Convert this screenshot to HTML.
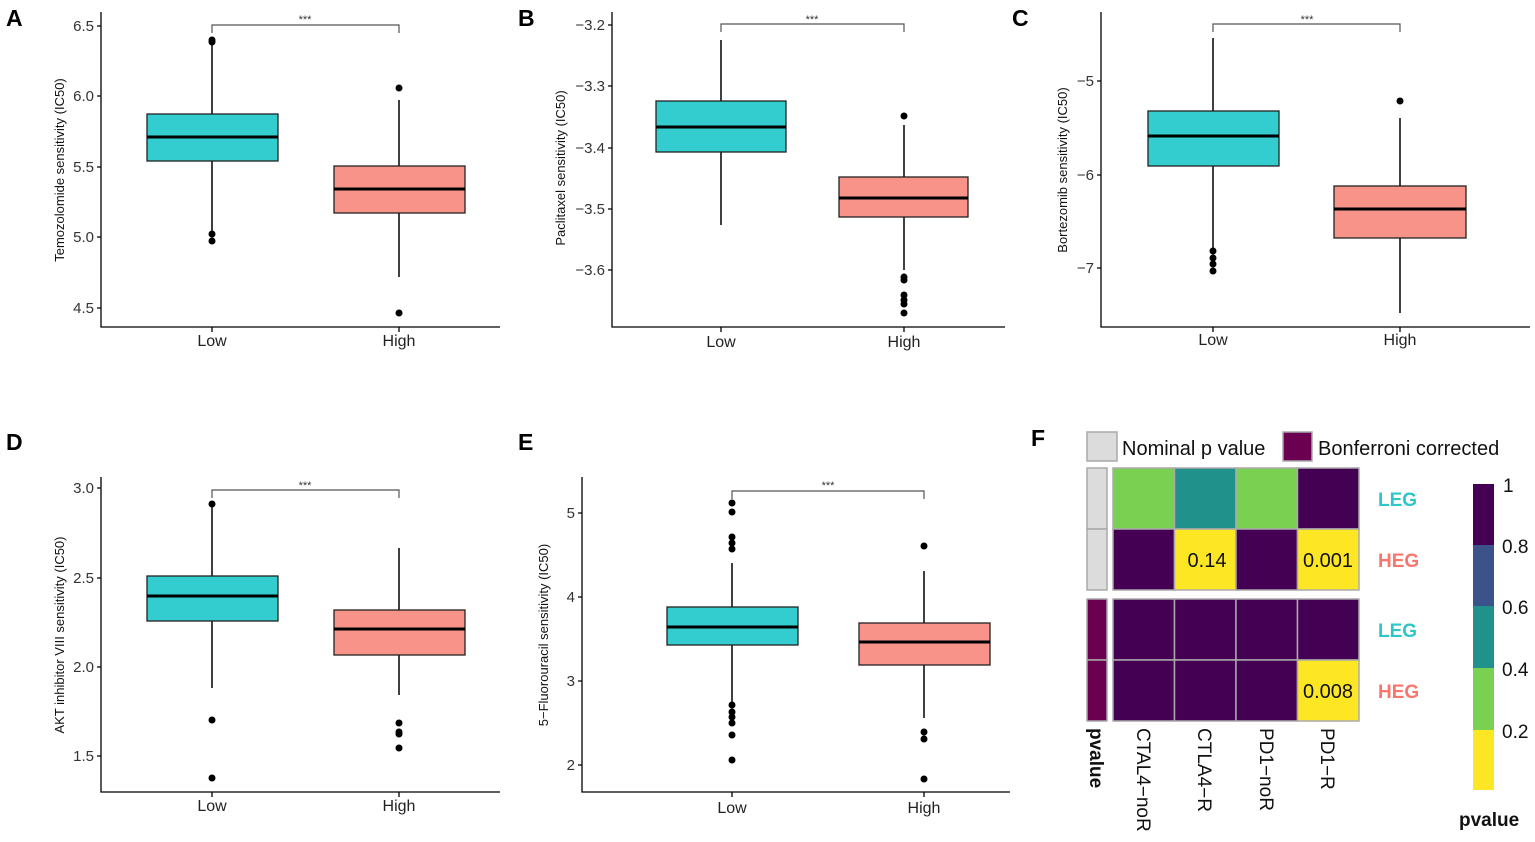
<!DOCTYPE html>
<html><head><meta charset="utf-8"><style>
html,body{margin:0;padding:0;background:#fff}
svg{display:block;font-family:"Liberation Sans",sans-serif}
.t{font-size:15px;fill:#333}
.xl{font-size:16px;fill:#222}
.yt{font-size:13px;fill:#111}
.L{font-size:23px;font-weight:bold}
.ax{stroke:#000;stroke-width:1.3;fill:none}
.w{stroke:#000;stroke-width:1.5}
.bl{fill:#33cccf;stroke:#222;stroke-width:1.3}
.bh{fill:#f8938a;stroke:#222;stroke-width:1.3}
.md{stroke:#000;stroke-width:3}
.br{stroke:#555;stroke-width:1.2;fill:none}
.st{font-size:11px;fill:#333}
</style></head><body>
<svg width="1535" height="842" viewBox="0 0 1535 842">
<!-- Panel A -->
<text class="L" x="6" y="26">A</text>
<path class="ax" d="M101 12V327H500"/>
<g class="t" text-anchor="end"><text x="94" y="31">6.5</text><text x="94" y="101">6.0</text><text x="94" y="172">5.5</text><text x="94" y="242">5.0</text><text x="94" y="313">4.5</text></g>
<path class="ax" d="M97 26H101M97 96H101M97 167H101M97 237H101M97 308H101M212 327V332M399 327V332"/>
<text class="yt" transform="translate(64,170) rotate(-90)" text-anchor="middle">Temozolomide sensitivity (IC50)</text>
<text class="xl" x="212" y="346" text-anchor="middle">Low</text><text class="xl" x="399" y="346" text-anchor="middle">High</text>
<line class="w" x1="212" y1="42" x2="212" y2="232"/><rect class="bl" x="147" y="114" width="131" height="47"/><line class="md" x1="147" y1="137" x2="278" y2="137"/>
<circle cx="212" cy="40" r="3.5"/><circle cx="212" cy="42" r="3.5"/><circle cx="212" cy="234" r="3.5"/><circle cx="212" cy="241" r="3.5"/>
<line class="w" x1="399" y1="100" x2="399" y2="277"/><rect class="bh" x="334" y="166" width="131" height="47"/><line class="md" x1="334" y1="189" x2="465" y2="189"/>
<circle cx="399" cy="88" r="3.5"/><circle cx="399" cy="313" r="3.5"/>
<path class="br" d="M212 33V25H399V33"/><text class="st" x="305" y="23" text-anchor="middle">***</text>

<!-- Panel B -->
<text class="L" x="518" y="26">B</text>
<path class="ax" d="M612 12V327H1005"/>
<g class="t" text-anchor="end"><text x="605" y="30">−3.2</text><text x="605" y="91">−3.3</text><text x="605" y="153">−3.4</text><text x="605" y="214">−3.5</text><text x="605" y="275">−3.6</text></g>
<path class="ax" d="M608 25H612M608 86H612M608 148H612M608 209H612M608 270H612M721 327V332M904 327V332"/>
<text class="yt" transform="translate(565,168) rotate(-90)" text-anchor="middle">Paclitaxel sensitivity (IC50)</text>
<text class="xl" x="721" y="347" text-anchor="middle">Low</text><text class="xl" x="904" y="347" text-anchor="middle">High</text>
<line class="w" x1="721" y1="40" x2="721" y2="225"/><rect class="bl" x="656" y="101" width="130" height="51"/><line class="md" x1="656" y1="127" x2="786" y2="127"/>
<line class="w" x1="904" y1="125" x2="904" y2="270"/><rect class="bh" x="839" y="177" width="129" height="40"/><line class="md" x1="839" y1="198" x2="968" y2="198"/>
<circle cx="904" cy="116" r="3.5"/><circle cx="904" cy="277" r="3.5"/><circle cx="904" cy="280" r="3.5"/><circle cx="904" cy="295" r="3.5"/><circle cx="904" cy="300" r="3.5"/><circle cx="904" cy="304" r="3.5"/><circle cx="904" cy="313" r="3.5"/>
<path class="br" d="M721 32V24H904V32"/><text class="st" x="812" y="23" text-anchor="middle">***</text>

<!-- Panel C -->
<text class="L" x="1012" y="26">C</text>
<path class="ax" d="M1101 12V327H1530"/>
<g class="t" text-anchor="end"><text x="1094" y="86">−5</text><text x="1094" y="180">−6</text><text x="1094" y="273">−7</text></g>
<path class="ax" d="M1097 81H1101M1097 175H1101M1097 268H1101M1213 327V332M1400 327V332"/>
<text class="yt" transform="translate(1067,170) rotate(-90)" text-anchor="middle">Bortezomib sensitivity (IC50)</text>
<text class="xl" x="1213" y="345" text-anchor="middle">Low</text><text class="xl" x="1400" y="345" text-anchor="middle">High</text>
<line class="w" x1="1213" y1="38" x2="1213" y2="248"/><rect class="bl" x="1148" y="111" width="131" height="55"/><line class="md" x1="1148" y1="136" x2="1279" y2="136"/>
<circle cx="1213" cy="251" r="3.5"/><circle cx="1213" cy="258" r="3.5"/><circle cx="1213" cy="264" r="3.5"/><circle cx="1213" cy="271" r="3.5"/>
<line class="w" x1="1400" y1="118" x2="1400" y2="313"/><rect class="bh" x="1334" y="186" width="132" height="52"/><line class="md" x1="1334" y1="209" x2="1466" y2="209"/>
<circle cx="1400" cy="101" r="3.5"/>
<path class="br" d="M1213 32V24H1400V32"/><text class="st" x="1307" y="23" text-anchor="middle">***</text>

<!-- Panel D -->
<text class="L" x="6" y="450">D</text>
<path class="ax" d="M101 477V792H500"/>
<g class="t" text-anchor="end"><text x="94" y="493">3.0</text><text x="94" y="583">2.5</text><text x="94" y="672">2.0</text><text x="94" y="761">1.5</text></g>
<path class="ax" d="M97 488H101M97 578H101M97 667H101M97 756H101M212 792V797M399 792V797"/>
<text class="yt" transform="translate(64,635) rotate(-90)" text-anchor="middle">AKT inhibitor VIII sensitivity (IC50)</text>
<text class="xl" x="212" y="811" text-anchor="middle">Low</text><text class="xl" x="399" y="811" text-anchor="middle">High</text>
<line class="w" x1="212" y1="504" x2="212" y2="688"/><rect class="bl" x="147" y="576" width="131" height="45"/><line class="md" x1="147" y1="596" x2="278" y2="596"/>
<circle cx="212" cy="504" r="3.5"/><circle cx="212" cy="720" r="3.5"/><circle cx="212" cy="778" r="3.5"/>
<line class="w" x1="399" y1="548" x2="399" y2="695"/><rect class="bh" x="334" y="610" width="131" height="45"/><line class="md" x1="334" y1="629" x2="465" y2="629"/>
<circle cx="399" cy="723" r="3.5"/><circle cx="399" cy="732" r="3.5"/><circle cx="399" cy="734" r="3.5"/><circle cx="399" cy="748" r="3.5"/>
<path class="br" d="M212 498V490H399V498"/><text class="st" x="305" y="489" text-anchor="middle">***</text>

<!-- Panel E -->
<text class="L" x="518" y="450">E</text>
<path class="ax" d="M582 477V792H1010"/>
<g class="t" text-anchor="end"><text x="575" y="518">5</text><text x="575" y="602">4</text><text x="575" y="686">3</text><text x="575" y="770">2</text></g>
<path class="ax" d="M578 513H582M578 597H582M578 681H582M578 765H582M732 792V797M924 792V797"/>
<text class="yt" transform="translate(548,635) rotate(-90)" text-anchor="middle">5−Fluorouracil sensitivity (IC50)</text>
<text class="xl" x="732" y="813" text-anchor="middle">Low</text><text class="xl" x="924" y="813" text-anchor="middle">High</text>
<line class="w" x1="732" y1="563" x2="732" y2="702"/><rect class="bl" x="667" y="607" width="131" height="38"/><line class="md" x1="667" y1="627" x2="798" y2="627"/>
<circle cx="732" cy="503" r="3.5"/><circle cx="732" cy="512" r="3.5"/><circle cx="732" cy="537" r="3.5"/><circle cx="732" cy="543" r="3.5"/><circle cx="732" cy="549" r="3.5"/><circle cx="732" cy="705" r="3.5"/><circle cx="732" cy="712" r="3.5"/><circle cx="732" cy="717" r="3.5"/><circle cx="732" cy="723" r="3.5"/><circle cx="732" cy="735" r="3.5"/><circle cx="732" cy="760" r="3.5"/>
<line class="w" x1="924" y1="571" x2="924" y2="718"/><rect class="bh" x="859" y="623" width="131" height="42"/><line class="md" x1="859" y1="642" x2="990" y2="642"/>
<circle cx="924" cy="546" r="3.5"/><circle cx="924" cy="732" r="3.5"/><circle cx="924" cy="739" r="3.5"/><circle cx="924" cy="779" r="3.5"/>
<path class="br" d="M732 499V491H924V499"/><text class="st" x="828" y="489" text-anchor="middle">***</text>

<!-- Panel F -->
<text class="L" x="1031" y="446">F</text>
<rect x="1087" y="432" width="30" height="29" fill="#dcdcdc" stroke="#aaa" stroke-width="1.5"/>
<text x="1122" y="455" font-size="20" fill="#111">Nominal p value</text>
<rect x="1283" y="432" width="29" height="29" fill="#6b0050" stroke="#aaa" stroke-width="1.5"/>
<text x="1318" y="455" font-size="20" fill="#111">Bonferroni corrected</text>
<g stroke="#aaa" stroke-width="1.5">
<rect x="1087" y="468" width="20" height="61" fill="#dcdcdc"/><rect x="1087" y="529" width="20" height="61" fill="#dcdcdc"/>
<rect x="1087" y="599" width="20" height="61" fill="#6b0050"/><rect x="1087" y="660" width="20" height="61" fill="#6b0050"/>
<rect x="1113" y="468" width="61.5" height="61" fill="#7ad151"/><rect x="1174.5" y="468" width="61.5" height="61" fill="#21918c"/><rect x="1236" y="468" width="61.5" height="61" fill="#7ad151"/><rect x="1297.5" y="468" width="61.5" height="61" fill="#440154"/>
<rect x="1113" y="529" width="61.5" height="61" fill="#440154"/><rect x="1174.5" y="529" width="61.5" height="61" fill="#fde725"/><rect x="1236" y="529" width="61.5" height="61" fill="#440154"/><rect x="1297.5" y="529" width="61.5" height="61" fill="#fde725"/>
<rect x="1113" y="599" width="61.5" height="61" fill="#440154"/><rect x="1174.5" y="599" width="61.5" height="61" fill="#440154"/><rect x="1236" y="599" width="61.5" height="61" fill="#440154"/><rect x="1297.5" y="599" width="61.5" height="61" fill="#440154"/>
<rect x="1113" y="660" width="61.5" height="61" fill="#440154"/><rect x="1174.5" y="660" width="61.5" height="61" fill="#440154"/><rect x="1236" y="660" width="61.5" height="61" fill="#440154"/><rect x="1297.5" y="660" width="61.5" height="61" fill="#fde725"/>
</g>
<g font-size="20" fill="#111" text-anchor="middle"><text x="1207" y="567">0.14</text><text x="1328" y="567">0.001</text><text x="1328" y="698">0.008</text></g>
<g font-size="19" font-weight="bold" text-anchor="start"><text x="1378" y="506" fill="#2ec6c9">LEG</text><text x="1378" y="567" fill="#f8766d">HEG</text><text x="1378" y="637" fill="#2ec6c9">LEG</text><text x="1378" y="698" fill="#f8766d">HEG</text></g>
<g font-size="19" fill="#111">
<text transform="translate(1090,728) rotate(90)" font-weight="bold">pvalue</text>
<text transform="translate(1137,728) rotate(90)">CTAL4−noR</text>
<text transform="translate(1198,728) rotate(90)">CTLA4−R</text>
<text transform="translate(1260,728) rotate(90)">PD1−noR</text>
<text transform="translate(1321,728) rotate(90)">PD1−R</text>
</g>
<rect x="1473" y="484" width="21" height="62" fill="#440154"/><rect x="1473" y="545" width="21" height="62" fill="#3b528b"/><rect x="1473" y="606" width="21" height="63" fill="#21918c"/><rect x="1473" y="668" width="21" height="63" fill="#7ad151"/><rect x="1473" y="730" width="21" height="60" fill="#fde725"/>
<g font-size="19" fill="#111"><text x="1503" y="492">1</text><text x="1502" y="553">0.8</text><text x="1502" y="614">0.6</text><text x="1502" y="676">0.4</text><text x="1502" y="738">0.2</text></g>
<text x="1459" y="826" font-size="19" font-weight="bold" fill="#111">pvalue</text>
</svg>
</body></html>
